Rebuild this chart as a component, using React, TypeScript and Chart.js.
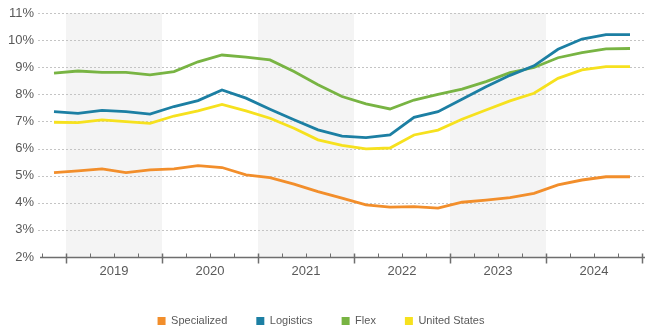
import React, { useEffect, useRef } from 'react';
import { Chart, registerables } from 'chart.js';

Chart.register(...registerables);

const quarters = [
  'Q4 2018',
  'Q1 2019', 'Q2 2019', 'Q3 2019', 'Q4 2019',
  'Q1 2020', 'Q2 2020', 'Q3 2020', 'Q4 2020',
  'Q1 2021', 'Q2 2021', 'Q3 2021', 'Q4 2021',
  'Q1 2022', 'Q2 2022', 'Q3 2022', 'Q4 2022',
  'Q1 2023', 'Q2 2023', 'Q3 2023', 'Q4 2023',
  'Q1 2024', 'Q2 2024', 'Q3 2024', 'Q4 2024',
];
const years = ['2019', '2020', '2021', '2022', '2023', '2024'];
const shadedYears = ['2019', '2021', '2023'];
const yTicks = [2, 3, 4, 5, 6, 7, 8, 9, 10, 11];

const specialized = [5.11, 5.18, 5.25, 5.11, 5.21, 5.25, 5.37, 5.30, 5.03, 4.93, 4.69, 4.41, 4.17, 3.92, 3.84, 3.86, 3.80, 4.02, 4.10, 4.19, 4.35, 4.66, 4.84, 4.96, 4.96];
const logistics = [7.36, 7.30, 7.41, 7.36, 7.27, 7.55, 7.77, 8.16, 7.86, 7.45, 7.06, 6.69, 6.46, 6.40, 6.50, 7.15, 7.36, 7.82, 8.28, 8.70, 9.05, 9.66, 10.04, 10.20, 10.20];
const flex = [8.78, 8.86, 8.81, 8.81, 8.72, 8.84, 9.20, 9.45, 9.37, 9.27, 8.84, 8.35, 7.92, 7.65, 7.46, 7.79, 8.00, 8.19, 8.47, 8.80, 8.99, 9.35, 9.54, 9.68, 9.69];
const unitedStates = [6.97, 6.96, 7.06, 6.99, 6.93, 7.20, 7.39, 7.63, 7.39, 7.12, 6.75, 6.32, 6.12, 5.99, 6.02, 6.50, 6.68, 7.08, 7.42, 7.76, 8.04, 8.59, 8.90, 9.02, 9.02];

const seriesNames = ['Specialized', 'Logistics', 'Flex', 'United States'];
const seriesValues = [specialized, logistics, flex, unitedStates];
const seriesColors = ['#f28e2b', '#1c7fa3', '#78b443', '#f6e11e'];

const FONT = "'Liberation Sans', Arial, sans-serif";

const decor = {
  id: 'decor',
  beforeDatasetsDraw(chart: any) {
    const { ctx, chartArea, scales } = chart;
    const x = scales.x;
    const y = scales.y;
    ctx.save();
    ctx.fillStyle = '#f4f4f4';
    shadedYears.forEach((yr) => {
      const i = quarters.indexOf('Q1 ' + yr);
      const x0 = x.getPixelForValue(i - 0.5);
      const x1 = x.getPixelForValue(i + 3.5);
      ctx.fillRect(x0, chartArea.top, x1 - x0, chartArea.bottom - chartArea.top);
    });
    ctx.strokeStyle = '#c4c4c4';
    ctx.lineWidth = 1;
    ctx.setLineDash([2, 2]);
    yTicks.slice(1).forEach((v) => {
      const py = Math.round(y.getPixelForValue(v)) + 0.5;
      ctx.beginPath();
      ctx.moveTo(chartArea.left - 4, py);
      ctx.lineTo(chart.width, py);
      ctx.stroke();
    });
    ctx.restore();
  },
  afterDatasetsDraw(chart: any) {
    const { ctx, chartArea, scales } = chart;
    const x = scales.x;
    const y = scales.y;
    const py = Math.round(y.getPixelForValue(yTicks[0])) + 0.5;
    ctx.save();
    ctx.strokeStyle = '#6e6e6e';
    ctx.lineWidth = 1.5;
    ctx.beginPath();
    ctx.moveTo(chartArea.left - 2, py);
    ctx.lineTo(chart.width, py);
    ctx.stroke();
    for (let i = 0; i <= quarters.length; i++) {
      const px = Math.round(x.getPixelForValue(i - 0.5)) + 0.5;
      const major = i === quarters.length || quarters[i].startsWith('Q1');
      ctx.lineWidth = major ? 1.5 : 1;
      ctx.beginPath();
      ctx.moveTo(px, py - 4);
      ctx.lineTo(px, major ? py + 6 : py);
      ctx.stroke();
    }
    ctx.restore();
  },
};

export default function App() {
  const ref = useRef<HTMLCanvasElement>(null);
  useEffect(() => {
    document.body.style.margin = '0';
    const canvas = ref.current;
    if (!canvas) return;
    const chart = new Chart(canvas, {
      type: 'line',
      data: {
        datasets: seriesNames.map((name, k) => ({
          label: name,
          data: seriesValues[k].map((v, i) => ({ x: i, y: v })),
          borderColor: seriesColors[k],
          backgroundColor: seriesColors[k],
          borderWidth: 2.8,
          pointRadius: 0,
          tension: 0,
          fill: false,
        })),
      },
      options: {
        animation: false,
        responsive: true,
        maintainAspectRatio: false,
        devicePixelRatio: 1,
        layout: { padding: { top: 0, right: 3, left: 0, bottom: -5.5 } },
        scales: {
          x: {
            type: 'linear',
            min: -0.5,
            max: quarters.length - 0.5,
            grid: { display: false, drawTicks: false },
            border: { display: false },
            afterBuildTicks: (s: any) => {
              s.ticks = years.map((yr) => ({ value: quarters.indexOf('Q1 ' + yr) + 1.5 }));
            },
            afterFit: (s: any) => {
              s.height = 29.5;
            },
            ticks: {
              autoSkip: false,
              maxRotation: 0,
              padding: 7,
              color: '#595959',
              font: { family: FONT, size: 13 },
              callback: (v: any) => {
                const q = quarters[Math.round(Number(v) - 1.5)] || '';
                return q.slice(3);
              },
            },
          },
          y: {
            min: 2,
            max: 11,
            grid: { display: false, drawTicks: false },
            border: { display: false },
            afterBuildTicks: (s: any) => {
              s.ticks = yTicks.map((v) => ({ value: v }));
            },
            afterFit: (s: any) => {
              s.width = 42;
            },
            ticks: {
              padding: 8,
              color: '#595959',
              font: { family: FONT, size: 13, lineHeight: 0.77 },
              callback: (v: any) => v + '%',
            },
          },
        },
        plugins: {
          legend: {
            position: 'bottom',
            labels: {
              boxWidth: 8,
              boxHeight: 8,
              padding: 29,
              color: '#595959',
              font: { family: FONT, size: 11 },
              generateLabels: (c: any) =>
                Chart.defaults.plugins.legend.labels.generateLabels(c).map((l: any) => ({ ...l, lineWidth: 0 })),
            },
          },
          tooltip: { enabled: false },
        },
      },
      plugins: [decor],
    } as any);
    return () => chart.destroy();
  }, []);
  return (
    <div style={{ width: 645, height: 331, position: 'relative' }}>
      <canvas ref={ref} />
    </div>
  );
}
